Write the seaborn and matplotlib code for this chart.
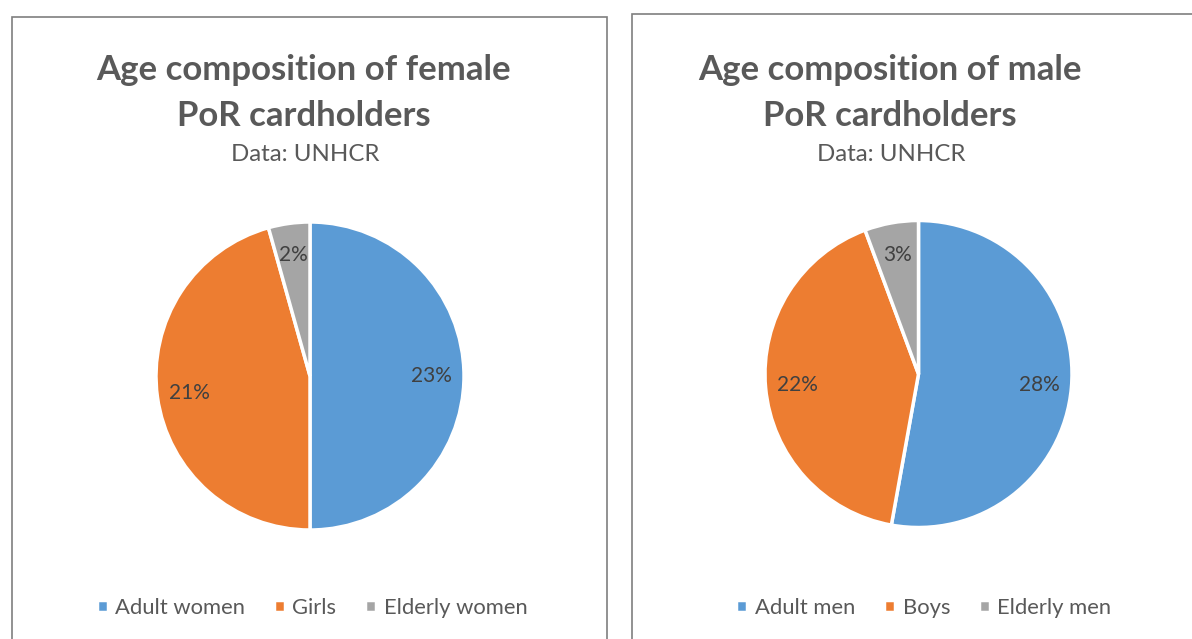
import matplotlib
matplotlib.use("Agg")
import matplotlib.pyplot as plt
from matplotlib.patches import Rectangle
import seaborn as sns

# DATA (shares of all PoR cardholders, in %)
female_labels = ['Adult women', 'Girls', 'Elderly women']
female_values = [23, 21, 2]
male_labels = ['Adult men', 'Boys', 'Elderly men']
male_values = [28, 22, 3]

sns.set_theme(style="white")
plt.rcParams['font.family'] = ['Lato', 'DejaVu Sans']

colors = ['#5B9BD5', '#ED7D31', '#A5A5A5']
text_grey = '#595959'

W, H = 1192, 639
fig = plt.figure(figsize=(W / 100, H / 100), dpi=100)


def px(x, y):
    # pixel position (from top-left) -> figure fraction
    return x / W, 1 - y / H


# panel frames
fig.patches.append(Rectangle(px(12, 700), 595 / W, 683 / H, transform=fig.transFigure,
                             fill=False, edgecolor='#7f7f7f', lw=1.2))
fig.patches.append(Rectangle(px(632, 700), 600 / W, 686 / H, transform=fig.transFigure,
                             fill=False, edgecolor='#7f7f7f', lw=1.2))


def draw_pie(values, labels, cx, cy, r, title, title_x, legend_x):
    ax = fig.add_axes([(cx - r) / W, 1 - (cy + r) / H, 2 * r / W, 2 * r / H])
    total = sum(values)
    wedges, _, autotexts = ax.pie(
        values, colors=colors, startangle=90, counterclock=False,
        autopct=lambda p: f"{round(p * total / 100)}%", pctdistance=0.79,
        wedgeprops=dict(edgecolor='white', linewidth=2.5),
        textprops=dict(color='#404040', fontsize=15))
    ax.set_xlim(-1, 1)
    ax.set_ylim(-1, 1)
    ax.set_aspect('equal')
    ax.axis('off')

    for line, y in zip(title, [70, 116]):
        fig.text(*px(title_x, y), line, ha='center', va='center', fontsize=25,
                 fontweight='bold', color=text_grey)
    fig.text(*px(title_x + 1, 155), 'Data: UNHCR', ha='center', va='center',
             fontsize=17.3, color=text_grey)

    leg = fig.legend(wedges, labels, loc='center', bbox_to_anchor=px(legend_x, 608),
                     bbox_transform=fig.transFigure, ncol=3, frameon=False,
                     handlelength=0.5, handleheight=0.5, handletextpad=0.35,
                     columnspacing=1.3, fontsize=15.8)
    for t in leg.get_texts():
        t.set_color(text_grey)


draw_pie(female_values, female_labels, 310, 376, 154,
         ['Age composition of female', 'PoR cardholders'], 304, 312)
draw_pie(male_values, male_labels, 918.5, 374, 153.5,
         ['Age composition of male', 'PoR cardholders'], 890, 924)

fig.savefig('out.png', dpi=100, facecolor='white')
